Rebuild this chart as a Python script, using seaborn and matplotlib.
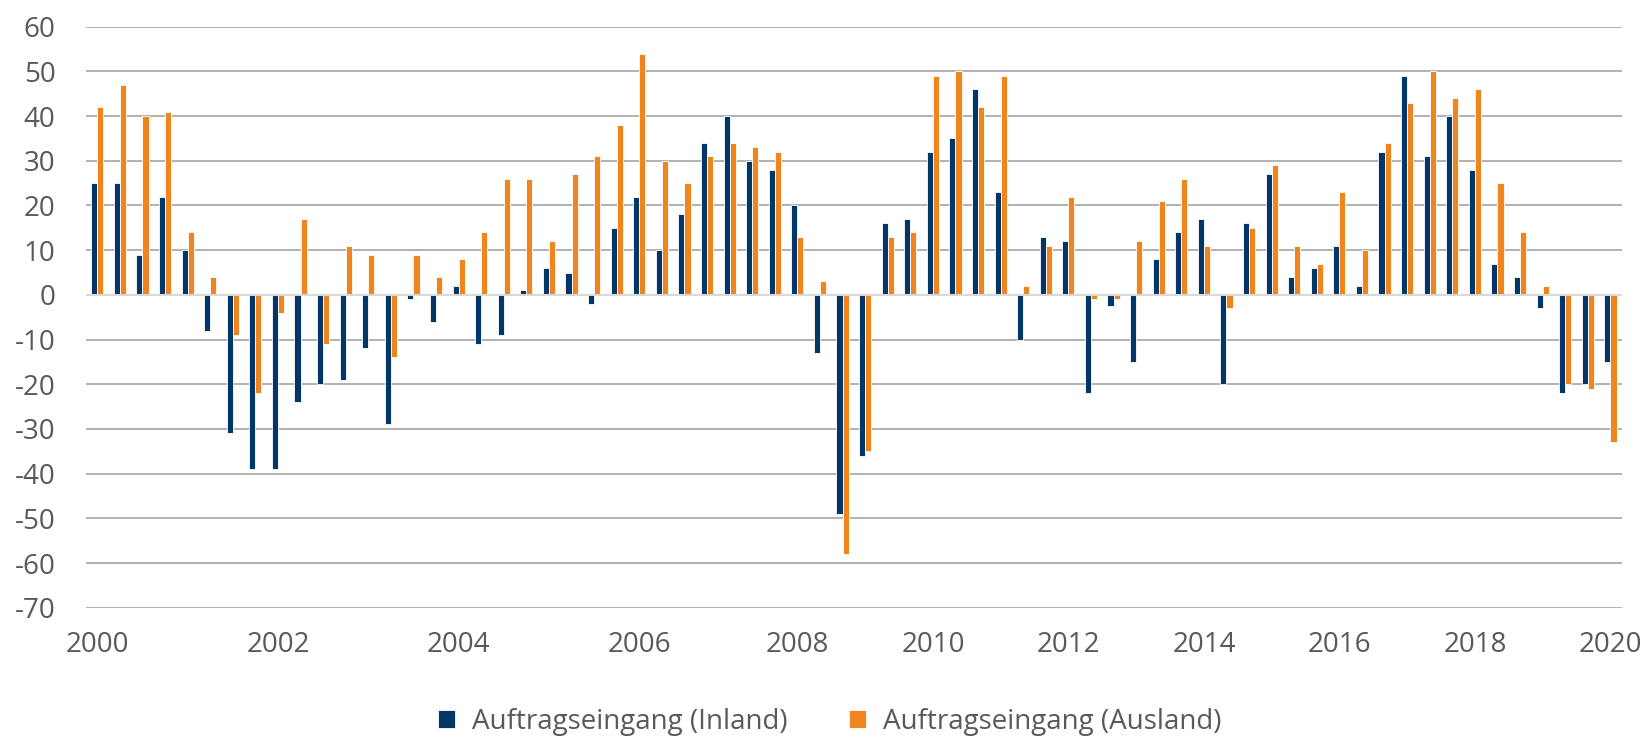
import matplotlib
matplotlib.use("Agg")
import matplotlib.pyplot as plt
import seaborn as sns
import pandas as pd
import numpy as np

# Quartalswerte 2000 - 2020
inland = [25, 25, 9, 22, 10, -8, -31, -39, -39, -24, -20, -19, -12, -29, -1, -6, 2, -11, -9, 1, 6,
          5, -2, 15, 22, 10, 18, 34, 40, 30, 28, 20, -13, -49, -36, 16, 17, 32, 35, 46, 23, -10, 13, 12, -22,
          -2.5, -15, 8, 14, 17, -20, 16, 27, 4, 6, 11, 2, 32, 49, 31, 40, 28, 7, 4, -3, -22, -20, -15]
ausland = [42, 47, 40, 41, 14, 4, -9, -22, -4, 17, -11, 11, 9, -14, 9, 4, 8, 14, 26, 26, 12,
           27, 31, 38, 54, 30, 25, 31, 34, 33, 32, 13, 3, -58, -35, 13, 14, 49, 50, 42, 49, 2, 11, 22, -1,
           -1, 12, 21, 26, 11, -3, 15, 29, 11, 7, 23, 10, 34, 43, 50, 44, 46, 25, 14, 2, -20, -21, -33]

series_names = ["Auftragseingang (Inland)", "Auftragseingang (Ausland)"]
tick_pos = [0, 8, 16, 24, 31, 37, 43, 49, 55, 61, 67]
tick_labels = ["2000", "2002", "2004", "2006", "2008", "2010", "2012", "2014", "2016", "2018", "2020"]
y_ticks = list(range(-70, 61, 10))

BLUE = "#003768"
ORANGE = "#EF851C"
TEXT = "#595959"

n = len(inland)
df = pd.DataFrame({
    "idx": list(range(n)) * 2,
    "value": inland + ausland,
    "serie": [series_names[0]] * n + [series_names[1]] * n,
})

sns.set_style("white")
plt.rcParams['font.family'] = ['Open Sans', 'DejaVu Sans']

fig = plt.figure(figsize=(16.46, 7.40), dpi=100)
ax = fig.add_axes([86 / 1646, 1 - 607.7 / 740, (1621.7 - 86) / 1646, (607.7 - 26.7) / 740])

sns.barplot(data=df, x="idx", y="value", hue="serie", hue_order=series_names,
            palette=[BLUE, ORANGE], width=0.54, edgecolor="white", linewidth=0.6,
            saturation=1, ax=ax)

ax.set_ylim(-70, 60)
ax.set_xlim(-0.5, n - 0.5)
ax.set_yticks(y_ticks)
ax.set_yticklabels([str(v) for v in y_ticks])
ax.set_xticks(tick_pos)
ax.set_xticklabels(tick_labels)
ax.set_xlabel("")
ax.set_ylabel("")

ax.set_axisbelow(True)
ax.yaxis.grid(True, color="#ABABAB", linewidth=1.3)
ax.axhline(0, color="#D9D9D9", linewidth=1.5, zorder=1.5)
for s in ax.spines.values():
    s.set_visible(False)
ax.tick_params(axis="y", length=0, pad=22, labelsize=20, labelcolor=TEXT)
ax.tick_params(axis="x", length=0, pad=17, labelsize=20, labelcolor=TEXT)

handles, labels = ax.get_legend_handles_labels()
ax.get_legend().remove()
fig.legend(handles, labels, loc="center", bbox_to_anchor=(0.504, 1 - 722 / 740), ncol=2,
           frameon=False, fontsize=20, labelcolor=TEXT, handlelength=0.62, handleheight=0.62,
           handletextpad=0.62, columnspacing=2.2)

fig.savefig("out.png", dpi=100)
